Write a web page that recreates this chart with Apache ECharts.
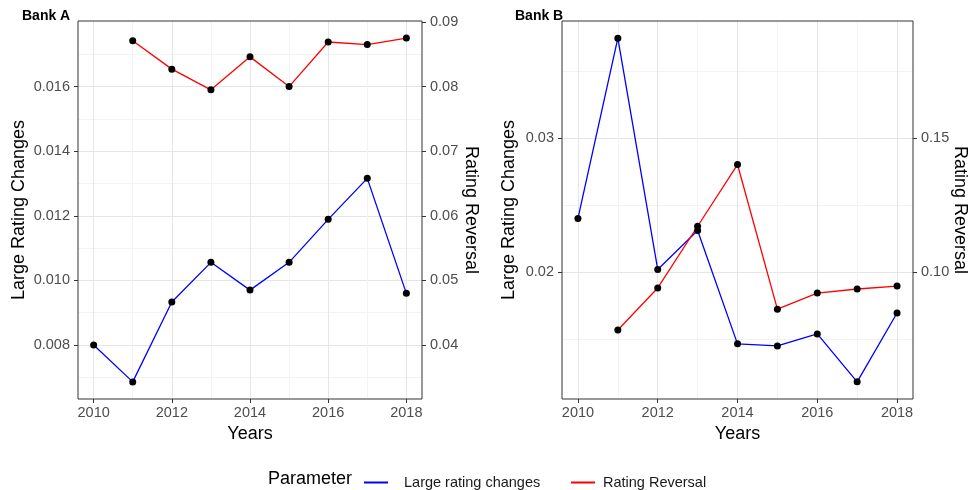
<!DOCTYPE html>
<html><head><meta charset="utf-8">
<script src="https://cdn.jsdelivr.net/npm/echarts@6/dist/echarts.min.js"></script>
<style>html,body{margin:0;padding:0;background:#fff}#c{width:968px;height:490px}</style>
</head><body><div id="c"></div>
<script>
// ---- data ----
const years = [2010, 2011, 2012, 2013, 2014, 2015, 2016, 2017, 2018];
const bankALarge = [0.0080, 0.00686, 0.00933, 0.01056, 0.0097, 0.01056, 0.01189, 0.01316, 0.0096];
const bankAReversal = [null, 0.0871, 0.0827, 0.0795, 0.0846, 0.0800, 0.0869, 0.0865, 0.0875];
const bankBLarge = [0.0240, 0.03744, 0.0202, 0.0231, 0.01465, 0.0145, 0.01539, 0.01182, 0.01695];
const bankBReversal = [null, 0.0784, 0.0941, 0.1171, 0.1401, 0.0862, 0.0922, 0.0937, 0.0948];
const xTicks = [2010, 2012, 2014, 2016, 2018];
const aLeftTicks = [0.008, 0.010, 0.012, 0.014, 0.016];
const aRightTicks = [0.04, 0.05, 0.06, 0.07, 0.08, 0.09];
const aGrid = [0.007, 0.008, 0.009, 0.010, 0.011, 0.012, 0.013, 0.014, 0.015, 0.016, 0.017];
const bLeftTicks = [0.02, 0.03];
const bRightTicks = [0.10, 0.15];
const bGrid = [0.015, 0.02, 0.025, 0.03, 0.035];
const seriesNames = ['Large rating changes', 'Rating Reversal'];

// ---- styling ----
const FONT = '"Liberation Sans", Arial, sans-serif';
const BLUE = '#0000ff', RED = '#ff0000';
const LBL = {fontSize: 14.5, color: '#4d4d4d', fontFamily: FONT};

function pairs(vals) { return years.map((y, i) => [y, vals[i]]).filter(p => p[1] != null); }

function visX(gi) {
  return {type: 'value', gridIndex: gi, position: 'bottom', min: 2009.6, max: 2018.4,
    axisLine: {show: false},
    axisTick: {show: true, length: 4, lineStyle: {color: '#333'}, customValues: xTicks},
    axisLabel: Object.assign({customValues: xTicks, margin: 6, formatter: v => String(v)}, LBL),
    splitLine: {show: false},
    name: 'Years', nameLocation: 'middle', nameGap: 24,
    nameTextStyle: {fontSize: 18, color: '#000', fontFamily: FONT}};
}
function gridX(gi) {
  return {type: 'value', gridIndex: gi, position: 'bottom', min: 2009.6, max: 2018.4,
    axisLine: {show: false}, axisTick: {show: false, customValues: years},
    axisLabel: {show: false, customValues: years},
    splitLine: {show: true, lineStyle: {color: ['#e6e6e6', '#f3f3f3'], width: 1}}};
}
function visY(gi, pos, min, max, ticks, dec, name, gap, rot) {
  return {type: 'value', gridIndex: gi, position: pos, min: min, max: max,
    axisLine: {show: false},
    axisTick: {show: true, length: 4, lineStyle: {color: '#333'}, customValues: ticks},
    axisLabel: Object.assign({customValues: ticks, margin: 8, formatter: v => v.toFixed(dec)}, LBL),
    splitLine: {show: false},
    name: name, nameLocation: 'middle', nameGap: gap, nameRotate: rot, nameMoveOverlap: false,
    nameTextStyle: {fontSize: 18, color: '#000', fontFamily: FONT}};
}
function gridY(gi, min, max, vals) {
  return {type: 'value', gridIndex: gi, position: 'left', min: min, max: max,
    axisLine: {show: false}, axisTick: {show: false, customValues: vals},
    axisLabel: {show: false, customValues: vals},
    splitLine: {show: true, lineStyle: {color: ['#f3f3f3', '#e6e6e6'], width: 1}}};
}
function line(name, xi, yi, vals, color) {
  return {type: 'line', name: name, xAxisIndex: xi, yAxisIndex: yi, data: pairs(vals),
    symbol: 'circle', symbolSize: 7, showSymbol: true,
    itemStyle: {color: '#000'}, lineStyle: {color: color, width: 1.3},
    emphasis: {disabled: true}, z: 3};
}

const A = {lmin: 0.00633, lmax: 0.01803};
const B = {lmin: 0.01054, lmax: 0.03872};

const option = {
  animation: false,
  textStyle: {fontFamily: FONT},
  grid: [
    {left: 78, top: 21, width: 344, height: 378, show: true, borderColor: '#333', borderWidth: 1, backgroundColor: 'transparent', outerBoundsMode: 'none', containLabel: false, z: 4},
    {left: 562, top: 21, width: 351, height: 378, show: true, borderColor: '#333', borderWidth: 1, backgroundColor: 'transparent', outerBoundsMode: 'none', containLabel: false, z: 4}
  ],
  xAxis: [visX(0), gridX(0), visX(1), gridX(1)],
  yAxis: [
    visY(0, 'left', A.lmin, A.lmax, aLeftTicks, 3, 'Large Rating Changes', 50, 90),
    visY(0, 'right', A.lmin * 5, A.lmax * 5, aRightTicks, 2, 'Rating Reversal', 40, -90),
    gridY(0, A.lmin, A.lmax, aGrid),
    visY(1, 'left', B.lmin, B.lmax, bLeftTicks, 2, 'Large Rating Changes', 44, 90),
    visY(1, 'right', B.lmin * 5, B.lmax * 5, bRightTicks, 2, 'Rating Reversal', 38, -90),
    gridY(1, B.lmin, B.lmax, bGrid)
  ],
  legend: [
    {data: [{name: seriesNames[0], icon: 'rect', itemStyle: {color: BLUE}}], left: 359, top: 470,
      itemWidth: 24, itemHeight: 2, selectedMode: false,
      textStyle: {fontSize: 14.5, color: '#1a1a1a', fontFamily: FONT, padding: [0, 0, 0, 11]}},
    {data: [{name: seriesNames[1], icon: 'rect', itemStyle: {color: RED}}], left: 566, top: 470,
      itemWidth: 24, itemHeight: 2, selectedMode: false,
      textStyle: {fontSize: 14.5, color: '#1a1a1a', fontFamily: FONT, padding: [0, 0, 0, 3]}}
  ],
  graphic: [
    {type: 'text', left: 22, top: 9, style: {text: 'Bank A', font: 'bold 14px ' + FONT, fill: '#000'}},
    {type: 'text', left: 515, top: 9, style: {text: 'Bank B', font: 'bold 14px ' + FONT, fill: '#000'}},
    {type: 'text', left: 268, top: 470, style: {text: 'Parameter', font: '18px ' + FONT, fill: '#000'}}
  ],
  series: [
    line(seriesNames[0], 0, 0, bankALarge, BLUE),
    line(seriesNames[1], 0, 1, bankAReversal, RED),
    line(seriesNames[0], 2, 3, bankBLarge, BLUE),
    line(seriesNames[1], 2, 4, bankBReversal, RED)
  ]
};
const chart = echarts.init(document.getElementById('c'), null, {renderer: 'canvas'});
chart.setOption(option);
</script>
</body></html>
